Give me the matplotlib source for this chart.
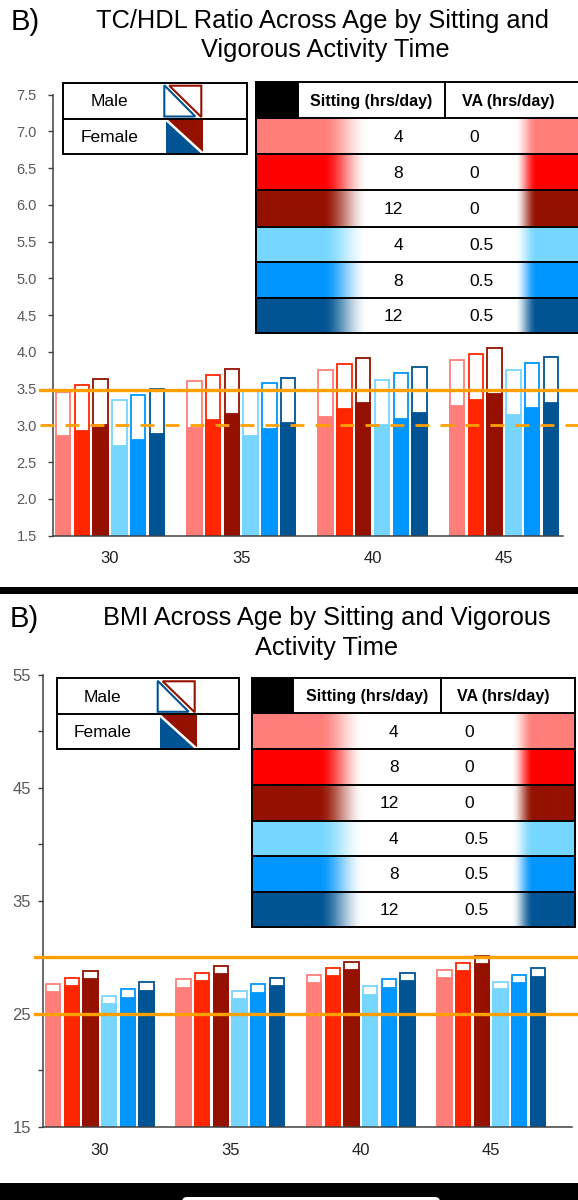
import numpy as np
import matplotlib.pyplot as plt
from matplotlib.colors import to_rgb
from matplotlib.patches import Rectangle, Polygon, FancyBboxPatch

plt.rcParams['font.family'] = ['Liberation Sans', 'DejaVu Sans']

# groups: sitting hrs/day x vigorous activity hrs/day
ages = [30, 35, 40, 45]
sitting_hrs = ['4', '8', '12', '4', '8', '12']
va_hrs = ['0', '0', '0', '0.5', '0.5', '0.5']
bar_colors = ['#FF7E79', '#FF2600', '#941100', '#76D6FF', '#0096FF', '#005493']
table_colors = ['#FF7E79', '#FF0000', '#941100', '#76D6FF', '#0096FF', '#005493']
orange = '#FFA000'

# one row per age, one column per group
tchdl_male = [[3.46, 3.55, 3.63, 3.34, 3.42, 3.50],
              [3.61, 3.69, 3.77, 3.47, 3.57, 3.65],
              [3.75, 3.83, 3.91, 3.62, 3.71, 3.79],
              [3.89, 3.97, 4.05, 3.76, 3.85, 3.93]]
tchdl_female = [[2.85, 2.93, 3.01, 2.72, 2.80, 2.88],
                [2.97, 3.07, 3.15, 2.86, 2.95, 3.03],
                [3.12, 3.22, 3.30, 3.00, 3.09, 3.17],
                [3.26, 3.35, 3.43, 3.14, 3.23, 3.31]]
bmi_male = [[27.60, 28.20, 28.80, 26.60, 27.20, 27.80],
            [28.05, 28.65, 29.25, 27.00, 27.60, 28.20],
            [28.45, 29.05, 29.60, 27.45, 28.05, 28.65],
            [28.90, 29.50, 30.10, 27.85, 28.45, 29.05]]
bmi_female = [[26.95, 27.50, 28.05, 25.85, 26.40, 27.00],
              [27.30, 27.90, 28.50, 26.30, 26.85, 27.45],
              [27.75, 28.35, 28.85, 26.70, 27.30, 27.90],
              [28.15, 28.75, 29.40, 27.15, 27.75, 28.30]]

tchdl_ref = [3.48, 3.0]
bmi_ref = [30, 25]

W, H = 578, 1200
fig = plt.figure(figsize=(W / 100, H / 100), dpi=100)


def px_axes(x0, y0, x1, y1, **kw):
    return fig.add_axes([x0 / W, 1 - y1 / H, (x1 - x0) / W, (y1 - y0) / H], **kw)


def bar_panel(ax, male, female):
    n = len(bar_colors)
    step, width = 0.143, 0.11
    for i, col in enumerate(bar_colors):
        xs = np.arange(len(ages)) + (i - (n - 1) / 2) * step
        m = [row[i] for row in male]
        f = [row[i] for row in female]
        ax.bar(xs, m, width, color='white', edgecolor=col, linewidth=1.3, zorder=2)
        ax.bar(xs, f, width, color=col, edgecolor=col, linewidth=1.3, zorder=2)
    ax.set_xticks(range(len(ages)))
    ax.set_xticklabels([str(a) for a in ages])
    for s in ['top', 'right']:
        ax.spines[s].set_visible(False)
    for s in ['left', 'bottom']:
        ax.spines[s].set_color('#404040')
        ax.spines[s].set_linewidth(1.1)
    ax.tick_params(axis='x', length=0, labelsize=12, colors='#222222')
    ax.tick_params(axis='y', which='both', length=3.6, width=1, color='#404040',
                   labelcolor='#595959')


# top panel
ax1 = px_axes(53, 94.5, 563, 535.7)
bar_panel(ax1, tchdl_male, tchdl_female)
ax1.set_ylim(1.5, 7.5)
ax1.set_xlim(-0.434, 3.45)
ax1.set_yticks(np.arange(1.5, 7.51, 0.5))
ax1.set_yticklabels(['%.1f' % v for v in np.arange(1.5, 7.51, 0.5)])
ax1.tick_params(axis='y', pad=8, labelsize=10.5)
ax1.tick_params(axis='x', pad=11)
ax1.axhline(tchdl_ref[0], xmin=-0.0255, xmax=1.03, color=orange, lw=2.4, clip_on=False, zorder=3)
ax1.axhline(tchdl_ref[1], xmin=-0.0255, xmax=1.03, color=orange, lw=2, ls=(0, (5, 4)),
            clip_on=False, zorder=3)

# bottom panel
ax2 = px_axes(42.7, 675, 571.7, 1126.7)
bar_panel(ax2, bmi_male, bmi_female)
ax2.set_ylim(15, 55)
ax2.set_xlim(-0.437, 3.617)
ax2.set_yticks([15, 25, 35, 45, 55])
ax2.set_yticks([20, 30, 40, 50], minor=True)
ax2.tick_params(axis='y', pad=5, labelsize=12)
ax2.tick_params(axis='x', pad=12)
for r in bmi_ref:
    ax2.axhline(r, xmin=-0.0146, xmax=1.012, color=orange, lw=2.4, clip_on=False, zorder=3)

# overlay in pixel coords for titles, legends, tables
ov = fig.add_axes([0, 0, 1, 1], zorder=5)
ov.axis('off')


def smooth(t):
    t = np.clip(t, 0, 1)
    return t * t * (3 - 2 * t)


def sex_legend(left, top, right, bottom):
    mid = (top + bottom) / 2
    ov.add_patch(Rectangle((left, top), right - left, bottom - top, fill=False, ec='black', lw=1.4, zorder=4))
    ov.plot([left, right], [mid, mid], color='black', lw=1.4, zorder=4)
    tx = left + 46
    ov.text(tx, (top + mid) / 2 + 1, 'Male', ha='center', va='center', fontsize=12.5)
    ov.text(tx, (mid + bottom) / 2 + 1, 'Female', ha='center', va='center', fontsize=12.5)
    blue, red = bar_colors[5], bar_colors[2]
    # male: outlined triangles
    x0, x1 = left + 101, left + 138
    y0, y1 = top + 2.5, mid - 2
    ov.add_patch(Polygon([(x0, y0), (x0, y1), (x1 - 6, y1)], closed=True, fill=False,
                         ec=blue, lw=1.5, zorder=4))
    ov.add_patch(Polygon([(x0 + 5, y0 + 0.5), (x1, y0 + 0.5), (x1, y1 + 0.5)], closed=True, fill=False,
                         ec=red, lw=1.5, zorder=4))
    # female: filled triangles
    x0, x1 = left + 103, left + 140
    y0, y1 = mid + 1.5, bottom - 0.5
    ov.add_patch(Polygon([(x0, y0), (x0, y1), (x1, y1)], closed=True, fc=blue, ec='none', zorder=3))
    ov.add_patch(Polygon([(x0, y0), (x1, y0), (x1, y1)], closed=True, fc=red, ec='none', zorder=3))
    ov.plot([x0, x1], [y0, y1], color='white', lw=1.8, zorder=3.5)


def activity_table(left, black_right, divider, right, edges, box_right=None):
    xs = np.linspace(left, right, 600)
    w = np.maximum(1 - smooth((xs - (left + 66)) / 46), smooth((xs - (left + 259)) / 22))
    for i, col in enumerate(table_colors):
        y0, y1 = edges[i + 1], edges[i + 2]
        rgb = np.array(to_rgb(col))
        img = w[:, None] * rgb + (1 - w[:, None])
        ov.imshow(img[None, :, :], extent=(left, right, y1, y0), aspect='auto',
                  interpolation='bilinear', zorder=1)
        ym = (y0 + y1) / 2 + 1
        ov.text(left + 147, ym, sitting_hrs[i], ha='right', va='center', fontsize=12.5)
        ov.text(left + 213, ym, va_hrs[i], ha='left', va='center', fontsize=12.5)
    ov.add_patch(Rectangle((left, edges[0]), black_right - left, edges[1] - edges[0],
                           fc='black', ec='none', zorder=2))
    ym = (edges[0] + edges[1]) / 2 + 1
    ov.text((black_right + divider) / 2, ym, 'Sitting (hrs/day)', ha='center', va='center',
            fontsize=11.5, fontweight='bold')
    ov.text(left + 252, ym, 'VA (hrs/day)', ha='center', va='center',
            fontsize=11.5, fontweight='bold')
    edge_r = box_right if box_right is not None else right
    for y in edges:
        ov.plot([left, edge_r], [y, y], color='black', lw=1.4, zorder=4)
    ov.plot([left, left], [edges[0], edges[-1]], color='black', lw=1.4, zorder=4)
    ov.plot([divider, divider], [edges[0], edges[1]], color='black', lw=1.4, zorder=4)
    ov.plot([black_right, black_right], [edges[0], edges[1]], color='black', lw=1.4, zorder=4)
    if box_right is not None:
        ov.plot([box_right, box_right], [edges[0], edges[-1]], color='black', lw=1.4, zorder=4)


# titles
ov.text(11, 22, 'B)', ha='left', va='center', fontsize=21)
ov.text(323, 21, 'TC/HDL Ratio Across Age by Sitting and', ha='center', va='center', fontsize=18.3)
ov.text(325, 50, 'Vigorous Activity Time', ha='center', va='center', fontsize=18.3)
ov.text(10, 619, 'B)', ha='left', va='center', fontsize=21)
ov.text(327, 618, 'BMI Across Age by Sitting and Vigorous', ha='center', va='center', fontsize=18.3)
ov.text(327, 648, 'Activity Time', ha='center', va='center', fontsize=18.3)

sex_legend(63.3, 82.7, 246.7, 154.3)
activity_table(256, 298, 445, 580, [82.3, 118.3, 154, 190, 226.7, 262.3, 297.7, 333.3])
sex_legend(56.7, 678.3, 239.3, 749.3)
activity_table(251.7, 293.3, 441, 575, [678.3, 713.3, 749, 785, 820.7, 856, 891.7, 927.3],
               box_right=575)

# dark bands of the screenshot
ov.add_patch(Rectangle((0, 586.5), W, 7.5, fc='black', ec='none'))
ov.add_patch(Rectangle((0, 1183), W, H - 1183, fc='black', ec='none'))
ov.add_patch(FancyBboxPatch((182, 1197), 258, 12, boxstyle='round,pad=0,rounding_size=5',
                            fc='white', ec='none'))

ov.set_xlim(0, W)
ov.set_ylim(H, 0)

fig.savefig('out.png', dpi=100, facecolor='white')
